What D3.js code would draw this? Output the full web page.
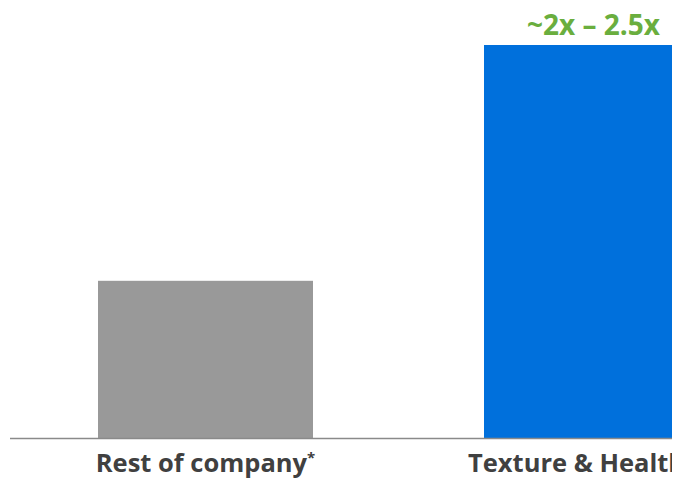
<!DOCTYPE html>
<html><head><meta charset="utf-8">
<script src="https://cdn.jsdelivr.net/npm/d3@7"></script>
<style>html,body{margin:0;padding:0;background:#fff;}svg{display:block;}</style>
</head><body>
<svg id="c" width="683" height="480"></svg>
<script>
const categories = ["Rest of company*", "Texture & Health"];
const values = [1, 2.5];
const colors = ["#999999", "#0070dc"];
const annotation = "~2x – 2.5x";

const svg = d3.select("#c");
svg.append("defs").append("clipPath").attr("id","clip")
  .append("rect").attr("x",0).attr("y",0).attr("width",672).attr("height",480);
const g = svg.append("g").attr("clip-path","url(#clip)");

const x = d3.scaleBand().domain(categories).range([98, 699]).paddingInner(0.443).paddingOuter(0);
const y = d3.scaleLinear().domain([0, 2.5]).range([438, 45]);

g.selectAll("rect.bar").data(categories).join("rect").attr("class","bar")
  .attr("x", d => x(d)).attr("width", x.bandwidth())
  .attr("y", (d,i) => y(values[i])).attr("height", (d,i) => y(0) - y(values[i]))
  .attr("fill", (d,i) => colors[i]);

g.append("line").attr("x1", 10).attr("x2", 672).attr("y1", y(0)+0.5).attr("y2", y(0)+0.5)
  .attr("stroke", "#8a8a8a").attr("stroke-width", 1.5);

const last = categories[categories.length - 1];
const labels = g.selectAll("text.cat").data(categories).join("text").attr("class","cat")
  .attr("x", d => d === last ? x(d) - 16 : x(d) + x.bandwidth()/2)
  .attr("y", 472)
  .attr("text-anchor", d => d === last ? "start" : "middle")
  .attr("font-family","'Open Sans', sans-serif").attr("font-weight","bold")
  .attr("font-size", 25.5).attr("fill","#404040");
labels.each(function(d){
  const t = d3.select(this);
  const star = d.endsWith("*");
  t.append("tspan").text(star ? d.slice(0,-1) : d);
  if (star) t.append("tspan").attr("font-size", 15).attr("dy", -9).text("*");
});

g.append("text").attr("x", 660).attr("y", 35).attr("text-anchor","end")
  .attr("font-family","'Open Sans', sans-serif").attr("font-weight","bold")
  .attr("font-size", 28).attr("fill","#6aae3e").text(annotation);
</script>
</body></html>
